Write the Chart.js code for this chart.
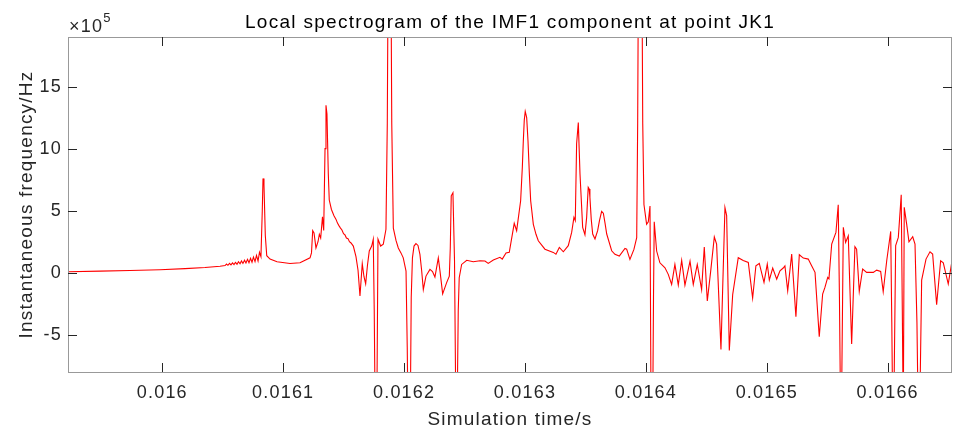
<!DOCTYPE html>
<html>
<head>
<meta charset="utf-8">
<title>Local spectrogram of the IMF1 component at point JK1</title>
<script src="https://cdn.jsdelivr.net/npm/chart.js@4.4.1/dist/chart.umd.min.js"></script>
<style>
  html, body { margin: 0; padding: 0; background: #fff; }
  canvas { display: block; }
</style>
</head>
<body>
<canvas id="imfChart" width="953" height="430"></canvas>
<script>
// Simulation time in seconds
const timeS = [
  0.0159220, 0.0159485, 0.0159733, 0.0159981, 0.0160188, 0.0160353, 0.0160477,
  0.0160519, 0.0160531, 0.0160543, 0.0160556, 0.0160568, 0.0160581, 0.0160593, 0.0160605,
  0.0160618, 0.0160630, 0.0160643, 0.0160655, 0.0160667, 0.0160680, 0.0160692, 0.0160705,
  0.0160717, 0.0160730, 0.0160742, 0.0160754, 0.0160767, 0.0160779, 0.0160792, 0.0160804, 0.0160816,
  0.0160827, 0.0160833, 0.0160841, 0.0160852, 0.0160864, 0.0160891, 0.0160949, 0.0161056, 0.0161139, 0.0161222,
  0.0161234, 0.0161244, 0.0161255, 0.0161271, 0.0161288, 0.0161299, 0.0161310, 0.0161325, 0.0161335,
  0.0161346, 0.0161354, 0.0161362, 0.0161373, 0.0161381,
  0.0161399, 0.0161420, 0.0161437, 0.0161449, 0.0161461, 0.0161474, 0.0161486, 0.0161499, 0.0161511,
  0.0161523, 0.0161536, 0.0161548, 0.0161561, 0.0161580,
  0.0161602, 0.0161619, 0.0161635, 0.0161654, 0.0161668, 0.0161682, 0.0161697, 0.0161712, 0.0161732,
  0.0161745, 0.0161753, 0.0161763, 0.0161774, 0.0161784, 0.0161806, 0.0161828, 0.0161850,
  0.0161861, 0.0161871, 0.0161887, 0.0161898, 0.0161911, 0.0161933, 0.0161952, 0.0161974, 0.0161993,
  0.0162016, 0.0162026, 0.0162036, 0.0162049, 0.0162059, 0.0162069, 0.0162082, 0.0162098, 0.0162115,
  0.0162131, 0.0162145, 0.0162159, 0.0162181, 0.0162214, 0.0162235, 0.0162255, 0.0162283, 0.0162297,
  0.0162319, 0.0162352, 0.0162374, 0.0162382, 0.0162390, 0.0162404, 0.0162417, 0.0162427, 0.0162440,
  0.0162448, 0.0162456, 0.0162476, 0.0162518, 0.0162572, 0.0162628, 0.0162669, 0.0162696, 0.0162738,
  0.0162793, 0.0162812, 0.0162843, 0.0162870, 0.0162911, 0.0162931,
  0.0162964, 0.0162978, 0.0162986, 0.0162994, 0.0163002, 0.0163014, 0.0163025, 0.0163036, 0.0163047,
  0.0163069, 0.0163091, 0.0163110, 0.0163165, 0.0163234, 0.0163256, 0.0163284, 0.0163317,
  0.0163358, 0.0163386, 0.0163405, 0.0163416, 0.0163427, 0.0163441, 0.0163455, 0.0163477, 0.0163496,
  0.0163510, 0.0163523, 0.0163531, 0.0163537, 0.0163548, 0.0163560, 0.0163579, 0.0163601, 0.0163616,
  0.0163634, 0.0163648, 0.0163662, 0.0163676,
  0.0163717, 0.0163744, 0.0163780, 0.0163827, 0.0163841, 0.0163868, 0.0163901, 0.0163924, 0.0163932,
  0.0163941, 0.0163963, 0.0163974, 0.0163984, 0.0164006, 0.0164020, 0.0164034, 0.0164042, 0.0164056,
  0.0164063, 0.0164069, 0.0164089, 0.0164116, 0.0164158, 0.0164185, 0.0164213, 0.0164240, 0.0164268,
  0.0164296, 0.0164323, 0.0164365, 0.0164392, 0.0164425, 0.0164461, 0.0164483, 0.0164508, 0.0164536,
  0.0164566, 0.0164585, 0.0164621, 0.0164654, 0.0164668, 0.0164690, 0.0164718, 0.0164764, 0.0164805,
  0.0164847, 0.0164883, 0.0164910, 0.0164938, 0.0164977, 0.0165004, 0.0165021, 0.0165049, 0.0165082,
  0.0165109, 0.0165136, 0.0165150, 0.0165173, 0.0165206, 0.0165241, 0.0165269, 0.0165302, 0.0165343,
  0.0165371, 0.0165399, 0.0165434, 0.0165462, 0.0165481, 0.0165504, 0.0165514, 0.0165537, 0.0165572,
  0.0165591, 0.0165601, 0.0165611, 0.0165619, 0.0165633, 0.0165652, 0.0165674, 0.0165702, 0.0165729,
  0.0165743, 0.0165765, 0.0165793, 0.0165826, 0.0165881, 0.0165909, 0.0165942, 0.0165963, 0.0165992,
  0.0166025, 0.0166034, 0.0166042, 0.0166052, 0.0166066, 0.0166088, 0.0166112, 0.0166121, 0.0166129,
  0.0166137, 0.0166157, 0.0166176, 0.0166207, 0.0166226, 0.0166242, 0.0166253, 0.0166267, 0.0166281,
  0.0166317, 0.0166350, 0.0166372, 0.0166405, 0.0166438, 0.0166460, 0.0166501, 0.0166540
];

// Instantaneous frequency in units of 10^5 Hz
const freqE5 = [
  0.08, 0.13, 0.18, 0.24, 0.33, 0.42, 0.52,
  0.58, 0.70, 0.60, 0.75, 0.63, 0.79, 0.66, 0.84,
  0.69, 0.89, 0.72, 0.95, 0.75, 1.01, 0.78, 1.08,
  0.81, 1.16, 0.85, 1.26, 0.90, 1.40, 0.95, 1.65, 1.30,
  5.0, 7.6, 7.1, 3.0, 1.37, 1.10, 0.89, 0.75, 0.80, 1.20,
  1.6, 3.39, 3.2, 2.0, 2.5, 3.1, 2.8, 4.5, 3.4,
  10.0, 13.5, 12.8, 8.0, 5.86,
  5.1, 4.6, 4.3, 4.0, 3.8, 3.6, 3.45, 3.15, 3.05,
  2.8, 2.75, 2.5, 2.4, 2.15,
  1.3, 0.2, -1.88, 0.73, -0.3, -0.89, 0.6, 1.75, 2.15,
  2.7, -3.0, -14, -12, 2.7, 2.15, 2.3, 3.5,
  12, 30, 32, 12, 3.6, 2.6, 2.0, 1.6, 1.2,
  0.13, -6, -15, -14, -2, 1.2, 2.15, 2.35, 2.2,
  1.48, 0.2, -1.35, -0.27, 0.27, 0.1, -0.35, 1.2, 0.13,
  -1.7, -0.8, -0.27, 2.0, 6.2, 6.45, 1.0, -10, -10,
  -3, -0.4, 0.67, 1.0, 0.89, 0.97, 0.95, 0.75, 1.02,
  1.24, 1.1, 1.59, 1.64, 3.98, 3.39,
  5.8, 8.5, 10.6, 12.3, 13.0, 12.5, 10.6, 8.0, 5.8,
  3.9, 3.1, 2.58, 1.9, 1.64, 1.5, 2.04, 1.69,
  2.18, 3.25, 4.46, 4.2, 10.4, 12.1, 7.96, 3.66, 3.06,
  4.46, 6.88, 6.75, 6.08, 4.3, 3.12, 2.72, 3.39, 4.2,
  4.95, 4.8, 4.0, 3.12,
  1.77, 1.48, 1.34, 1.96, 1.9, 1.07, 1.88, 2.82, 12,
  30, 32, 12, 5.5, 3.9, 4.1, 5.37, -10, -12,
  -2, 4.1, 1.75, 0.8, 0.4, -0.13, -0.94, 0.67, -1.0,
  0.99, -1.0, 0.94, -0.94, 0.67, -1.35, 2.07, -2.28, 0.13,
  2.88, 2.3, -6.18, 5.24, 4.6, -6.26, -1.75, 1.21, 0.99,
  0.83, -2.04, 0.56, 0.75, -0.78, 0.7, -0.59, 0.38, -0.51,
  0.16, 0.38, 0.55, -1.45, 1.5, -3.55, 1.45, 1.18, 1.1,
  0.56, 0.03, -5.16, -1.72, -1.18, -0.38, -0.5, 2.31, 3.25,
  5.48, -2, -12, -10, 3.66, 2.45, 2.98, -5.75, 2.1,
  1.9, -1.5, 0.3, 0.03, 0.03, 0.21, 0.1, -1.53, 0.97,
  3.33, -4, -12, -10, 2.18, 2.85, 6.29, -3, -12,
  5.27, 3.92, 2.5, 2.9, 2.3, -4, -12, -10, -0.59,
  1.1, 1.69, 1.5, -2.58, 0.97, 0.8, -0.91, 1.45
];

const xTicks = [0.016, 0.0161, 0.0162, 0.0163, 0.0164, 0.0165, 0.0166];
const yTicks = [-5, 0, 5, 10, 15];
const xRange = [0.015922, 0.0166532];
const yRange = [-8, 19];

const points = timeS.map((t, i) => ({ x: t, y: freqE5[i] }));

const textColor = '#262626';
const fontFamily = "'Liberation Sans', Arial, Helvetica, sans-serif";

// box with inward ticks on all four sides, plus title and exponent label
const axesBox = {
  id: 'axesBox',
  beforeDraw(chart) {
    chart.ctx.letterSpacing = '1.2px';
  },
  afterDraw(chart) {
    const { ctx, chartArea: a, scales } = chart;
    ctx.save();
    ctx.strokeStyle = '#999999';
    ctx.lineWidth = 1;
    ctx.strokeRect(a.left + 0.5, a.top + 0.5, a.right - a.left - 1, a.bottom - a.top);

    ctx.strokeStyle = textColor;
    ctx.beginPath();
    xTicks.forEach(v => {
      const px = Math.round(scales.x.getPixelForValue(v)) + 0.5;
      ctx.moveTo(px, a.bottom); ctx.lineTo(px, a.bottom - 9);
      ctx.moveTo(px, a.top); ctx.lineTo(px, a.top + 9);
    });
    yTicks.forEach(v => {
      const py = Math.round(scales.y.getPixelForValue(v)) + 0.5;
      ctx.moveTo(a.left, py); ctx.lineTo(a.left + 9, py);
      ctx.moveTo(a.right, py); ctx.lineTo(a.right - 9, py);
    });
    ctx.stroke();

    ctx.fillStyle = '#000';
    ctx.letterSpacing = '1.3px';
    ctx.font = '19px ' + fontFamily;
    ctx.textAlign = 'center';
    ctx.textBaseline = 'alphabetic';
    ctx.fillText('Local spectrogram of the IMF1 component at point JK1', (a.left + a.right) / 2, 28);

    ctx.fillStyle = textColor;
    ctx.letterSpacing = '1.2px';
    ctx.textAlign = 'left';
    ctx.font = '18px ' + fontFamily;
    ctx.fillText('\u00d710', a.left + 1, 32);
    const w = ctx.measureText('\u00d710').width;
    ctx.font = '13px ' + fontFamily;
    ctx.fillText('5', a.left + 1 + w, 22);
    ctx.restore();
  }
};

new Chart(document.getElementById('imfChart'), {
  type: 'line',
  data: {
    datasets: [{
      data: points,
      borderColor: '#ff0000',
      borderWidth: 1.1,
      pointRadius: 0,
      tension: 0,
      fill: false
    }]
  },
  options: {
    responsive: false,
    animation: false,
    devicePixelRatio: 1,
    layout: { padding: { top: 37, right: 1, bottom: 0, left: 0 } },
    plugins: { legend: { display: false }, tooltip: { enabled: false } },
    scales: {
      x: {
        type: 'linear',
        min: xRange[0],
        max: xRange[1],
        afterBuildTicks: s => { s.ticks = xTicks.map(v => ({ value: v })); },
        afterFit: s => { s.height = 58; },
        grid: { display: false, drawTicks: false },
        border: { display: false },
        ticks: {
          color: textColor, padding: 10, autoSkip: false, maxRotation: 0,
          font: { family: fontFamily, size: 18 },
          callback: v => String(v)
        },
        title: {
          display: true, text: 'Simulation time/s', color: textColor,
          font: { family: fontFamily, size: 19, lineHeight: 1.1 },
          padding: { top: 0, bottom: 0 }
        }
      },
      y: {
        type: 'linear',
        min: yRange[0],
        max: yRange[1],
        afterBuildTicks: s => { s.ticks = yTicks.map(v => ({ value: v })); },
        afterFit: s => { s.width = 68; },
        grid: { display: false, drawTicks: false },
        border: { display: false },
        ticks: {
          color: textColor, padding: 6,
          font: { family: fontFamily, size: 18 },
          callback: v => String(v)
        },
        title: {
          display: true, text: 'Instantaneous frequency/Hz', color: textColor,
          font: { family: fontFamily, size: 19 },
          padding: { top: 15, bottom: 0 }
        }
      }
    }
  },
  plugins: [axesBox]
});
</script>
</body>
</html>
